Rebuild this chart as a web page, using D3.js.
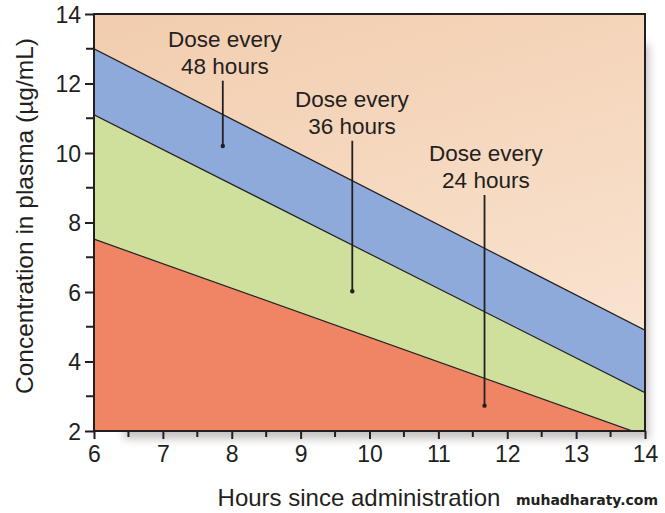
<!DOCTYPE html>
<html>
<head>
<meta charset="utf-8">
<script src="https://cdn.jsdelivr.net/npm/d3@7"></script>
<style>
body{margin:0;background:#fff}
svg{display:block}
text{font-family:"Liberation Sans",Arial,sans-serif;fill:#231f20}
</style>
</head>
<body>
<div id="chart"></div>
<script>
var w = 665
var h = 513
var margin = {top:14, right:20, bottom:82, left:94}

// boundary lines (hours, concentration)
var hours = [6, 14]
var line48 = [13.0, 4.9]
var line36 = [11.1, 3.1]
var line24 = [7.52, 1.87]

var xTicks = [6,7,8,9,10,11,12,13,14]
var yTicks = [2,4,6,8,10,12,14]

// pointer end (x,y) and label baseline (tx,ty)
var labels = [
    {text:["Dose every","48 hours"], x:7.87, y:10.2, tx:7.9, ty:13.06},
    {text:["Dose every","36 hours"], x:9.75, y:6.02, tx:9.745, ty:11.33},
    {text:["Dose every","24 hours"], x:11.67, y:2.73, tx:11.69, ty:9.77}
]

var x = d3.scaleLinear().domain([6,14]).range([margin.left, w-margin.right])
var y = d3.scaleLinear().domain([2,14]).range([h-margin.bottom, margin.top])

var svg = d3.select("#chart").append("svg").attr("width", w).attr("height", h)
var defs = svg.append("defs")

var grad = defs.append("linearGradient").attr("id","peach")
    .attr("x1","0").attr("y1","0").attr("x2","0.4").attr("y2","1")
grad.append("stop").attr("offset","0%").attr("stop-color","#f2cdae")
grad.append("stop").attr("offset","100%").attr("stop-color","#f9e3d0")

defs.append("clipPath").attr("id","plot").append("rect")
    .attr("x", x(6)).attr("y", y(14)).attr("width", x(14)-x(6)).attr("height", y(2)-y(14))

var blur = defs.append("filter").attr("id","shadow")
    .attr("x","-10%").attr("y","-10%").attr("width","130%").attr("height","130%")
blur.append("feGaussianBlur").attr("stdDeviation", 4)

// shadow behind frame
svg.append("rect")
    .attr("x", x(6)+30).attr("y", y(14)+30)
    .attr("width", x(14)-x(6)-26).attr("height", y(2)-y(14)-22)
    .attr("fill","#9a9090").attr("opacity",0.55)
    .attr("filter","url(#shadow)")

var plot = svg.append("g").attr("clip-path","url(#plot)")

function pts(vals){
    return hours.map(function(hh,i){return {h:hh, v:vals[i]}})
}

plot.append("rect")
    .attr("x", x(6)).attr("y", y(14)).attr("width", x(14)-x(6)).attr("height", y(2)-y(14))
    .attr("fill","url(#peach)")

var bands = [
    {top:line48, bottom:line36, fill:"#8eaadb"},
    {top:line36, bottom:line24, fill:"#cfe09d"},
    {top:line24, bottom:null, fill:"#f08566"}
]

var area = d3.area()
    .x(function(d){return x(d.h)})
    .y0(function(d){return d.b==null ? y(1) : y(d.b)})
    .y1(function(d){return y(d.v)})

bands.forEach(function(b){
    var data = hours.map(function(hh,i){
        return {h:hh, v:b.top[i], b:b.bottom ? b.bottom[i] : null}
    })
    plot.append("path").datum(data).attr("d", area).attr("fill", b.fill)
})

var line = d3.line().x(function(d){return x(d.h)}).y(function(d){return y(d.v)})
;[line48, line36, line24].forEach(function(l){
    plot.append("path").datum(pts(l)).attr("d", line)
        .attr("fill","none").attr("stroke","#231f20").attr("stroke-width",1.2)
})

// frame
svg.append("rect")
    .attr("x", x(6)).attr("y", y(14)).attr("width", x(14)-x(6)).attr("height", y(2)-y(14))
    .attr("fill","none").attr("stroke","#231f20").attr("stroke-width",2)

// axes
var yMinor = d3.range(3,14,2)
var xMinor = d3.range(6.5,14,1)

var yAxis = svg.append("g").attr("transform","translate("+x(6)+",0)")
    .call(d3.axisLeft(y).tickValues(yTicks).tickSize(9).tickPadding(4))
yAxis.append("g").selectAll("line").data(yMinor).enter().append("line")
    .attr("x1",0).attr("x2",-8).attr("y1",function(d){return y(d)}).attr("y2",function(d){return y(d)})
    .attr("stroke","#231f20").attr("stroke-width",2)

var xAxis = svg.append("g").attr("transform","translate(0,"+y(2)+")")
    .call(d3.axisBottom(x).tickValues(xTicks).tickSize(8).tickPadding(5))
xAxis.append("g").selectAll("line").data(xMinor).enter().append("line")
    .attr("x1",function(d){return x(d)}).attr("x2",function(d){return x(d)})
    .attr("y1",0).attr("y2",6)
    .attr("stroke","#231f20").attr("stroke-width",2)

;[xAxis, yAxis].forEach(function(a){
    a.select(".domain").remove()
    a.selectAll(".tick line").attr("stroke","#231f20").attr("stroke-width",2)
    a.selectAll(".tick text").attr("font-size",23).attr("fill","#231f20")
        .style("font-family","'Liberation Sans',Arial,sans-serif")
})
xAxis.selectAll(".tick text").attr("dy","0.8em")
yAxis.selectAll(".tick text").attr("dy","0.36em")

// axis titles
svg.append("text")
    .attr("transform","translate(33,216) rotate(-90)")
    .attr("text-anchor","middle").attr("font-size",24.5)
    .text("Concentration in plasma (\u00b5g/mL)")

svg.append("text")
    .attr("x", 359).attr("y", 506)
    .attr("text-anchor","middle").attr("font-size",24)
    .text("Hours since administration")

svg.append("text")
    .attr("x", 658).attr("y", 505)
    .attr("text-anchor","end").attr("font-size",14).attr("font-weight","bold")
    .style("font-family","'DejaVu Sans',sans-serif")
    .text("muhadharaty.com")

// dose labels
labels.forEach(function(d){
    var t = svg.append("text").attr("text-anchor","middle").attr("font-size",22.5)
        .attr("x", x(d.tx)).attr("y", y(d.ty))
    d.text.forEach(function(s,i){
        t.append("tspan").attr("x", x(d.tx)).attr("dy", i==0 ? 0 : 27).text(s)
    })
    svg.append("line")
        .attr("x1", x(d.x)).attr("x2", x(d.x))
        .attr("y1", y(d.ty)+27+7).attr("y2", y(d.y))
        .attr("stroke","#231f20").attr("stroke-width",1.8)
    svg.append("circle").attr("cx", x(d.x)).attr("cy", y(d.y)).attr("r",2.2).attr("fill","#231f20")
})
</script>
</body>
</html>
